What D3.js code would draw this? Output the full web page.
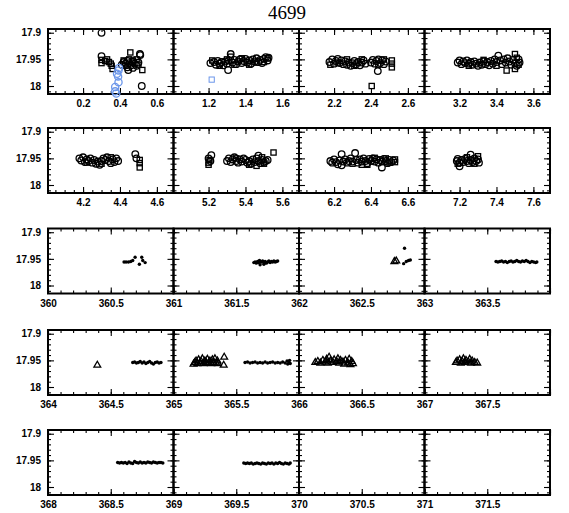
<!DOCTYPE html>
<html>
<head>
<meta charset="utf-8">
<script src="https://cdn.jsdelivr.net/npm/d3@7"></script>
<style>
  body { margin: 0; background: #fff; }
  .tick text { font-family: "Liberation Sans", Arial, sans-serif; font-size: 10px; font-weight: bold; fill: #000; }
</style>
</head>
<body>
<div id="chart"></div>
<script>
// chart title
var title = "4699";

// first x value of every panel, one list per row
var panelStarts = [
  [0, 1, 2, 3],
  [4, 5, 6, 7],
  [360, 361, 362, 363],
  [364, 365, 366, 367],
  [368, 369, 370, 371]
];

// y axis (magnitude, inverted)
var yDomain = [17.893, 18.015];
var yTicks = [17.9, 17.95, 18];
var yMinorTicks = [17.9, 17.91, 17.92, 17.93, 17.94, 17.95, 17.96, 17.97, 17.98, 17.99, 18, 18.01];

// open black circles [x, y]
var openCircles = [
  [0.30,17.900],[0.30,17.944],[0.508,17.940],[0.51,17.942],[0.518,18.000],[0.445,17.970],[0.42,17.955],[0.43,17.958],
  [0.44,17.953],[0.45,17.957],[0.46,17.961],[0.47,17.955],[0.48,17.958],[0.49,17.962],[0.50,17.956],[0.41,17.960],
  [0.44,17.965],[0.47,17.966],
  [1.21,17.957],[1.23,17.955],[1.24,17.960],[1.25,17.953],[1.26,17.958],[1.27,17.955],[1.28,17.961],[1.29,17.954],
  [1.30,17.958],[1.306,17.970],[1.31,17.952],[1.32,17.940],[1.33,17.956],[1.34,17.951],[1.35,17.959],[1.36,17.954],
  [1.37,17.950],[1.38,17.957],[1.39,17.953],[1.40,17.949],[1.41,17.956],[1.42,17.952],[1.43,17.958],[1.44,17.950],
  [1.45,17.954],[1.46,17.948],[1.47,17.955],[1.48,17.951],[1.49,17.957],[1.50,17.949],[1.51,17.946],[1.52,17.952],
  [1.525,17.947],
  [2.175,17.955],[2.19,17.950],[2.20,17.958],[2.21,17.953],[2.22,17.949],[2.23,17.957],[2.24,17.952],[2.25,17.959],
  [2.26,17.954],[2.27,17.960],[2.28,17.956],[2.29,17.962],[2.30,17.957],[2.31,17.953],[2.32,17.959],[2.33,17.955],
  [2.34,17.961],[2.35,17.956],[2.36,17.952],[2.37,17.958],[2.40,17.956],[2.41,17.951],[2.42,17.958],[2.43,17.953],
  [2.437,17.972],[2.44,17.950],[2.45,17.957],[2.46,17.952],[2.47,17.959],[2.48,17.954],
  [3.19,17.956],[3.20,17.952],[3.21,17.959],[3.22,17.954],[3.23,17.957],[3.24,17.952],[3.25,17.958],[3.26,17.955],
  [3.27,17.960],[3.28,17.954],[3.29,17.958],[3.30,17.962],[3.31,17.956],[3.32,17.960],[3.33,17.954],[3.34,17.959],
  [3.35,17.955],[3.36,17.961],[3.37,17.953],[3.38,17.958],[3.39,17.950],[3.40,17.955],[3.41,17.943],[3.42,17.952],
  [3.43,17.959],[3.44,17.950],[3.45,17.956],[3.46,17.948],[3.47,17.954],[3.48,17.960],[3.49,17.951],[3.50,17.957],
  [3.51,17.962],[3.52,17.950],[3.525,17.956],
  [4.18,17.950],[4.19,17.954],[4.20,17.948],[4.21,17.957],[4.22,17.952],[4.23,17.955],[4.24,17.950],[4.25,17.958],
  [4.26,17.953],[4.27,17.960],[4.28,17.956],[4.29,17.962],[4.30,17.955],[4.31,17.950],[4.32,17.953],[4.33,17.948],
  [4.34,17.955],[4.35,17.959],[4.36,17.952],[4.37,17.957],[4.38,17.950],[4.39,17.955],[4.483,17.942],[4.489,17.950],
  [5.20,17.950],[5.215,17.944],[5.21,17.955],[5.30,17.955],[5.31,17.950],[5.32,17.957],[5.33,17.952],[5.34,17.948],
  [5.35,17.955],[5.36,17.958],[5.37,17.952],[5.38,17.956],[5.39,17.950],[5.40,17.953],[5.41,17.958],[5.42,17.955],
  [5.43,17.960],[5.44,17.952],[5.45,17.957],[5.46,17.950],[5.47,17.955],[5.48,17.959],[5.49,17.953],[5.50,17.957],
  [5.51,17.955],[5.52,17.953],[5.47,17.945],
  [6.18,17.955],[6.19,17.958],[6.20,17.952],[6.21,17.957],[6.22,17.961],[6.23,17.954],[6.241,17.942],[6.241,17.963],
  [6.25,17.956],[6.26,17.952],[6.27,17.958],[6.28,17.955],[6.29,17.950],[6.30,17.956],[6.314,17.940],[6.32,17.953],
  [6.33,17.958],[6.34,17.952],[6.35,17.956],[6.36,17.950],[6.37,17.955],[6.38,17.959],[6.39,17.951],[6.40,17.955],
  [6.41,17.950],[6.42,17.956],[6.43,17.952],[6.44,17.958],[6.45,17.953],[6.459,17.967],[6.46,17.956],[6.47,17.951],
  [6.48,17.955],[6.49,17.959],[6.50,17.953],[6.51,17.957],[6.52,17.954],
  [7.185,17.955],[7.19,17.951],[7.20,17.958],[7.20,17.965],[7.21,17.953],[7.22,17.957],[7.23,17.951],[7.24,17.955],
  [7.25,17.959],[7.26,17.943],[7.26,17.953],[7.27,17.957],[7.28,17.950],[7.29,17.955],[7.30,17.952],[7.305,17.958]
];

// open black squares [x, y]
var openSquares = [
  [0.30,17.951],[0.30,17.957],[0.32,17.953],[0.33,17.950],[0.34,17.955],[0.35,17.958],[0.355,17.962],[0.36,17.968],
  [0.456,17.937],[0.521,17.970],[0.42,17.952],[0.43,17.962],[0.45,17.950],[0.47,17.952],[0.49,17.950],[0.50,17.960],
  [1.22,17.952],[1.26,17.962],[1.30,17.950],[1.34,17.960],[1.38,17.948],[1.42,17.960],[1.46,17.956],[1.50,17.955],
  [1.52,17.948],[1.32,17.945],
  [2.18,17.960],[2.22,17.956],[2.27,17.950],[2.31,17.962],[2.35,17.950],[2.404,18.000],[2.44,17.960],[2.47,17.950],
  [2.513,17.952],[2.513,17.958],[2.513,17.965],
  [3.25,17.962],[3.33,17.951],[3.40,17.962],[3.455,17.971],[3.50,17.940],[3.50,17.968],[3.51,17.947],[3.52,17.960],
  [4.22,17.958],[4.30,17.960],[4.35,17.948],[4.507,17.953],[4.507,17.959],[4.507,17.967],
  [5.20,17.958],[5.20,17.962],[5.205,17.953],[5.35,17.950],[5.42,17.962],[5.46,17.964],[5.50,17.960],[5.552,17.939],
  [5.49,17.948],
  [6.30,17.960],[6.35,17.962],[6.38,17.962],[6.42,17.949],[6.48,17.950],[6.50,17.958],[6.53,17.952],[6.53,17.957],
  [7.19,17.960],[7.24,17.948],[7.28,17.960],[7.30,17.946]
];

// blue open circles and squares [x, y]
var blueCircles = [
  [0.392,17.971],[0.395,17.966],[0.384,17.977],[0.39,17.982],[0.392,17.993],[0.374,18.002],[0.374,18.010],[0.38,18.014]
];
var blueSquares = [[1.217,17.988]];

// small filled dots [x, y]
var dots = [
  [360.606,17.956],[360.622,17.956],[360.641,17.956],[360.659,17.955],[360.675,17.953],[360.694,17.947],[360.728,17.960],
  [360.747,17.947],[360.755,17.953],[360.774,17.957],
  [361.64,17.957],[361.65,17.956],[361.66,17.958],[361.67,17.955],[361.68,17.957],[361.69,17.961],[361.70,17.956],
  [361.71,17.954],[361.72,17.957],[361.73,17.955],[361.74,17.958],[361.75,17.956],[361.76,17.954],[361.77,17.957],
  [361.78,17.955],[361.79,17.956],[361.80,17.954],[361.81,17.956],[361.82,17.955],[361.83,17.954],[361.685,17.953],
  [361.72,17.960],
  [362.841,17.930],[362.834,17.959],[362.855,17.955],[362.873,17.953],[362.887,17.952],
  [363.57,17.955],[363.585,17.956],[363.60,17.955],[363.615,17.954],[363.63,17.956],[363.645,17.955],[363.66,17.957],
  [363.675,17.955],[363.69,17.954],[363.705,17.956],[363.72,17.955],[363.735,17.953],[363.75,17.955],[363.765,17.956],
  [363.78,17.954],[363.795,17.955],[363.81,17.953],[363.825,17.955],[363.84,17.957],[363.855,17.955],[363.87,17.956],
  [363.885,17.957],[363.895,17.956],
  [364.675,17.954],[364.69,17.953],[364.705,17.955],[364.72,17.954],[364.735,17.952],[364.75,17.955],[364.765,17.953],
  [364.78,17.956],[364.795,17.954],[364.81,17.952],[364.825,17.955],[364.84,17.957],[364.855,17.954],[364.87,17.953],
  [364.885,17.955],[364.90,17.954],
  [365.57,17.954],[365.59,17.953],[365.61,17.955],[365.63,17.954],[365.65,17.953],[365.67,17.955],[365.69,17.954],
  [365.71,17.955],[365.73,17.953],[365.75,17.955],[365.77,17.954],[365.79,17.953],[365.81,17.955],[365.83,17.954],
  [365.85,17.955],[365.87,17.953],[365.89,17.955],[365.905,17.951],[365.91,17.957],[365.92,17.954],[365.925,17.950],
  [365.93,17.956],
  [368.555,17.954],[368.57,17.955],[368.585,17.954],[368.60,17.955],[368.615,17.954],[368.63,17.956],[368.645,17.953],
  [368.66,17.955],[368.675,17.956],[368.69,17.952],[368.705,17.954],[368.72,17.955],[368.735,17.953],[368.75,17.955],
  [368.765,17.954],[368.78,17.955],[368.795,17.953],[368.81,17.954],[368.825,17.955],[368.84,17.953],[368.855,17.954],
  [368.87,17.955],[368.885,17.954],[368.90,17.954],[368.915,17.955],
  [369.56,17.955],[369.575,17.956],[369.59,17.955],[369.605,17.956],[369.62,17.955],[369.635,17.957],[369.65,17.956],
  [369.665,17.955],[369.68,17.956],[369.695,17.957],[369.71,17.955],[369.725,17.956],[369.74,17.957],[369.755,17.955],
  [369.77,17.956],[369.785,17.955],[369.80,17.957],[369.815,17.955],[369.83,17.956],[369.845,17.954],[369.86,17.956],
  [369.875,17.957],[369.89,17.955],[369.905,17.956],[369.92,17.957],[369.93,17.955]
];

// open triangles [x, y]
var triangles = [
  [362.76,17.955],[362.775,17.954],
  [364.393,17.959],
  [365.16,17.957],[365.17,17.954],[365.18,17.951],[365.19,17.956],[365.20,17.949],[365.21,17.955],[365.22,17.952],
  [365.23,17.947],[365.24,17.956],[365.25,17.951],[365.26,17.954],[365.27,17.948],[365.28,17.955],[365.29,17.951],
  [365.30,17.956],[365.31,17.949],[365.32,17.954],[365.33,17.947],[365.34,17.955],[365.35,17.951],[365.355,17.956],
  [365.404,17.944],[365.40,17.959],
  [366.13,17.954],[366.15,17.952],[366.17,17.955],[366.19,17.950],[366.21,17.953],[366.22,17.948],[366.23,17.955],
  [366.24,17.944],[366.25,17.951],[366.27,17.954],[366.28,17.949],[366.30,17.952],[366.31,17.947],[366.32,17.955],
  [366.33,17.950],[366.35,17.953],[366.36,17.957],[366.37,17.950],[366.39,17.955],[366.40,17.948],[366.41,17.958],
  [366.42,17.952],[366.43,17.956],
  [367.25,17.954],[367.26,17.951],[367.28,17.949],[367.29,17.955],[367.30,17.952],[367.31,17.947],[367.32,17.954],
  [367.33,17.950],[367.35,17.953],[367.36,17.948],[367.37,17.955],[367.38,17.951],[367.40,17.954],[367.42,17.955]
];

var blue = "#6b96ea";

// layout
var width = 569, height = 513;
var left0 = 48, pw = 125.5, ph = 65;
var rowTop = [29, 128, 228.5, 330, 430];

var svg = d3.select("#chart")
  .append("svg")
    .attr("width", width)
    .attr("height", height);

svg.append("text")
  .attr("x", 287)
  .attr("y", 19)
  .attr("text-anchor", "middle")
  .style("font-family", "'Liberation Serif', 'DejaVu Serif', serif")
  .style("font-size", "19px")
  .text(title);

var y = d3.scaleLinear().domain(yDomain).range([0, ph]);

function stepValues(x0, x1, step) {
  var a = Math.ceil(x0 / step - 1e-6), b = Math.floor(x1 / step + 1e-6);
  return d3.range(a, b + 1).map(function(k) { return +(k * step).toFixed(3); });
}

function inside(x0, x1) {
  return function(d) { return d[0] >= x0 && d[0] <= x1; };
}

panelStarts.forEach(function(row, r) {
  row.forEach(function(start, c) {
    var short = r < 2;
    var x0 = short ? start + 0.01 : start;
    var x1 = short ? start + 0.69 : start + 1;
    var x = d3.scaleLinear().domain([x0, x1]).range([0, pw]);

    var g = svg.append("g")
      .attr("transform", "translate(" + (left0 + c * pw) + "," + rowTop[r] + ")");

    var step = short ? 0.2 : 0.5, minorStep = short ? 0.05 : 0.1;
    var major = stepValues(x0, x1, step);
    var minor = stepValues(x0, x1, minorStep);
    var labelled = major.filter(function(v) { return v < x1 - 1e-6; });
    var fmt = short ? d3.format(".1f") : function(v) { return Number.isInteger(v) ? v : v.toFixed(1); };

    // minor ticks on all four sides
    g.append("g").attr("transform", "translate(0," + ph + ")")
      .call(d3.axisBottom(x).tickValues(minor).tickSize(-3).tickFormat(""));
    g.append("g")
      .call(d3.axisTop(x).tickValues(minor).tickSize(-3).tickFormat(""));
    g.append("g")
      .call(d3.axisLeft(y).tickValues(yMinorTicks).tickSize(-3).tickFormat(""));
    g.append("g").attr("transform", "translate(" + pw + ",0)")
      .call(d3.axisRight(y).tickValues(yMinorTicks).tickSize(-3).tickFormat(""));

    // major ticks
    g.append("g").attr("transform", "translate(0," + ph + ")")
      .call(d3.axisBottom(x).tickValues(major).tickSize(-6).tickFormat(""));
    g.append("g")
      .call(d3.axisTop(x).tickValues(major).tickSize(-6).tickFormat(""));
    g.append("g")
      .call(d3.axisLeft(y).tickValues(yTicks).tickSize(-6).tickFormat(""));
    g.append("g").attr("transform", "translate(" + pw + ",0)")
      .call(d3.axisRight(y).tickValues(yTicks).tickSize(-6).tickFormat(""));

    // labels
    g.append("g").attr("transform", "translate(0," + ph + ")")
      .call(d3.axisBottom(x).tickValues(labelled).tickSize(0).tickPadding(6).tickFormat(fmt));
    if (c === 0) {
      g.append("g")
        .call(d3.axisLeft(y).tickValues(yTicks).tickSize(0).tickPadding(7).tickFormat(d3.format("")));
    }

    g.selectAll(".domain").remove();
    g.selectAll(".tick line").attr("stroke", "#000").attr("stroke-width", 1.1);

    // frame
    g.append("rect")
      .attr("width", pw)
      .attr("height", ph)
      .attr("fill", "none")
      .attr("stroke", "#000")
      .attr("stroke-width", 2);

    // markers
    var inPanel = inside(x0, x1);

    g.selectAll(".dot")
      .data(dots.filter(inPanel))
      .enter()
      .append("circle")
        .attr("cx", function(d) { return x(d[0]); })
        .attr("cy", function(d) { return y(d[1]); })
        .attr("r", 1.7)
        .attr("fill", "#000");

    g.selectAll(".tri")
      .data(triangles.filter(inPanel))
      .enter()
      .append("path")
        .attr("d", d3.symbol(d3.symbolTriangle, 20))
        .attr("transform", function(d) { return "translate(" + x(d[0]) + "," + y(d[1]) + ")"; })
        .attr("fill", "none")
        .attr("stroke", "#000")
        .attr("stroke-width", 1.3);

    g.selectAll(".sq")
      .data(openSquares.filter(inPanel))
      .enter()
      .append("rect")
        .attr("x", function(d) { return x(d[0]) - 2.6; })
        .attr("y", function(d) { return y(d[1]) - 2.6; })
        .attr("width", 5.2)
        .attr("height", 5.2)
        .attr("fill", "none")
        .attr("stroke", "#000")
        .attr("stroke-width", 1.3);

    g.selectAll(".circ")
      .data(openCircles.filter(inPanel))
      .enter()
      .append("circle")
        .attr("cx", function(d) { return x(d[0]); })
        .attr("cy", function(d) { return y(d[1]); })
        .attr("r", 3.3)
        .attr("fill", "none")
        .attr("stroke", "#000")
        .attr("stroke-width", 1.3);

    g.selectAll(".bsq")
      .data(blueSquares.filter(inPanel))
      .enter()
      .append("rect")
        .attr("x", function(d) { return x(d[0]) - 2.6; })
        .attr("y", function(d) { return y(d[1]) - 2.6; })
        .attr("width", 5.2)
        .attr("height", 5.2)
        .attr("fill", "none")
        .attr("stroke", blue)
        .attr("stroke-width", 1);

    g.selectAll(".bcirc")
      .data(blueCircles.filter(inPanel))
      .enter()
      .append("circle")
        .attr("cx", function(d) { return x(d[0]); })
        .attr("cy", function(d) { return y(d[1]); })
        .attr("r", 3.6)
        .attr("fill", "none")
        .attr("stroke", blue)
        .attr("stroke-width", 1.3);
  });
});
</script>
</body>
</html>
